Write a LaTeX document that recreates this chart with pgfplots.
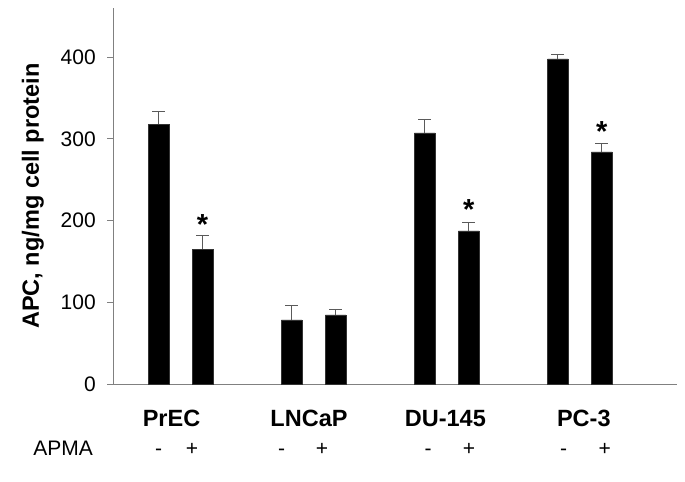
\documentclass[border=0pt]{standalone}
\usepackage{pgfplots}
\pgfplotsset{compat=1.18}
\usepackage{fontspec}
\setmainfont{Liberation Sans}
\usetikzlibrary{calc}
\definecolor{axgray}{RGB}{128,128,128}
\definecolor{errgray}{RGB}{90,90,90}
\newcommand{\fs}[1]{\fontsize{#1bp}{#1bp}\selectfont}
\begin{document}
\begin{tikzpicture}
\begin{axis}[name=ax, at={(0,0)}, anchor=south west,
  width=563bp, height=376.3bp, scale only axis,
  xmin=0.5, xmax=4.73, ymin=0, ymax=460,
  axis lines=left, axis line style={-, draw=axgray, line width=1bp},
  ytick={0,100,200,300,400}, xtick=\empty,
  tick align=outside, major tick length=6.7bp,
  tick style={draw=axgray, line width=1bp},
  /pgf/number format/assume math mode=true,
  yticklabel style={font=\fs{21}, xshift=-8bp},
  ylabel={\bfseries APC, ng/mg cell protein},
  ylabel style={font=\fs{23.5}, at={(axis description cs:-0.1440,0.5)}, anchor=center},
  clip=false,
]
\addplot[ybar, bar width=0.155, bar shift=0pt, fill=black, draw=black!80,
  error bars/.cd, y dir=plus, y explicit,
  error bar style={line width=1bp, draw=errgray},
  error mark options={rotate=90, mark size=6.5bp, line width=1bp, draw=errgray}]
  table[x=x, y=y, y error=e] {
  x     y     e
  0.835 317.8 15.2
  1.165 165.2 16.3
  1.835 78.7  17.5
  2.165 84.8  6.5
  2.835 307.2 16.3
  3.165 187.6 10.7
  3.835 397.8 5.6
  4.165 284.0 9.8
  };
% significance stars
\node[font=\fs{29}\bfseries, anchor=base] at (axis cs:1.165,183.4) {*};
\node[font=\fs{29}\bfseries, anchor=base] at (axis cs:3.165,201.2) {*};
\node[font=\fs{29}\bfseries, anchor=base] at (axis cs:4.165,296.6) {*};
% group labels
\node[font=\fs{23.5}\bfseries, anchor=base] at (axis cs:0.932,-51.9) {PrEC};
\node[font=\fs{23.5}\bfseries, anchor=base] at (axis cs:1.965,-51.9) {LNCaP};
\node[font=\fs{23.5}\bfseries, anchor=base] at (axis cs:2.990,-51.9) {DU-145};
\node[font=\fs{23.5}\bfseries, anchor=base] at (axis cs:4.030,-51.9) {PC-3};
% APMA row
\node[font=\fs{21}, anchor=base] at (axis cs:0.118,-86.5) {APMA};
\node[font=\fs{21}, anchor=base] at (axis cs:0.835,-86.5) {-};
\node[font=\fs{21}, anchor=base] at (axis cs:1.086,-86.5) {+};
\node[font=\fs{21}, anchor=base] at (axis cs:1.760,-86.5) {-};
\node[font=\fs{21}, anchor=base] at (axis cs:2.062,-86.5) {+};
\node[font=\fs{21}, anchor=base] at (axis cs:2.860,-86.5) {-};
\node[font=\fs{21}, anchor=base] at (axis cs:3.167,-86.5) {+};
\node[font=\fs{21}, anchor=base] at (axis cs:3.879,-86.5) {-};
\node[font=\fs{21}, anchor=base] at (axis cs:4.187,-86.5) {+};
\end{axis}
\pgfresetboundingbox
\path[use as bounding box] ($(ax.south west)+(-114bp,-97.7bp)$) rectangle ($(ax.north east)+(8bp,8bp)$);
\end{tikzpicture}
\end{document}
